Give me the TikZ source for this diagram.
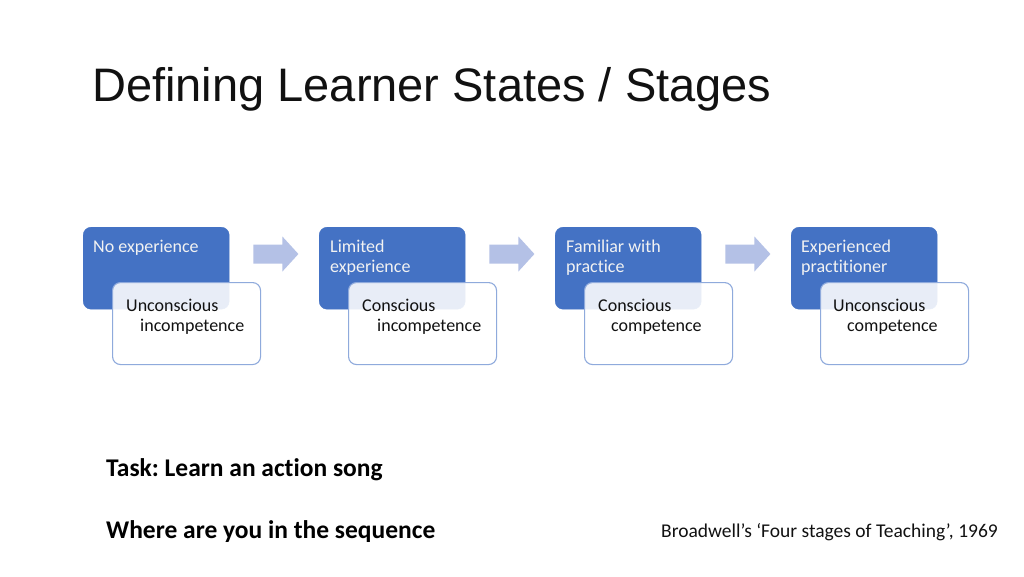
\documentclass[tikz,border=0pt]{standalone}
\usepackage{fontspec}
\setmainfont[Ligatures={NoCommon}]{Carlito}
\newfontfamily\titlefont{Liberation Sans}
\usetikzlibrary{calc}
\frenchspacing
\definecolor{boxblue}{HTML}{4472C4}
\definecolor{edgeblue}{HTML}{8FAADC}
\definecolor{arrowblue}{HTML}{B4C1E6}
\definecolor{inktext}{HTML}{111111}
\definecolor{lighttext}{HTML}{F2F2F2}
\begin{document}
\begin{tikzpicture}[x=1pt,y=-1pt,
  stagebox/.style={fill=boxblue, draw=boxblue, rounded corners=8pt, minimum width=146pt, minimum height=82pt, inner sep=0pt, anchor=north west},
  statebox/.style={fill=white, fill opacity=0.88, draw=edgeblue, line width=1.1pt, rounded corners=8pt, minimum width=148pt, minimum height=82pt, inner sep=0pt, anchor=north west},
  bluetext/.style={anchor=base west, inner sep=0pt, text=lighttext, font=\fontsize{18}{20}\selectfont},
  darktext/.style={anchor=base west, inner sep=0pt, text=inktext, font=\fontsize{18}{20}\selectfont},
  blockarrow/.style={fill=arrowblue},
  bigbold/.style={anchor=base west, inner sep=0pt, text=black, font=\bfseries\fontsize{25.5}{30}\selectfont},
]
\useasboundingbox[fill=white] (0,0) rectangle (1024,576);

\node[anchor=base west, inner sep=0pt, text=inktext, font=\titlefont\fontsize{47}{54}\selectfont] (title) at (92,101) {Defining Learner States / Stages};

% blue stage boxes
\node[stagebox] (s1) at (83,227) {};
\node[stagebox] (s2) at (319,227) {};
\node[stagebox] (s3) at (555,227) {};
\node[stagebox] (s4) at (791,227) {};

% arrows
\foreach \i in {1,2,3}{
  \coordinate (a\i) at ($(s\i.north east)+(24,27)$);
  \fill[blockarrow] (a\i) ++(0,-9.5) -- ++(29,0) -- ++(0,-8) -- ++(16,17.5) -- ++(-16,17.5) -- ++(0,-8) -- ++(-29,0) -- cycle;
}

% stage labels
\node[bluetext] (l1) at (93,252) {No experience};
\node[bluetext] (l2a) at (330,252) {Limited};
\node[bluetext] (l2b) at (330,272) {experience};
\node[bluetext] (l3a) at (566,252) {Familiar with};
\node[bluetext] (l3b) at (566,272) {practice};
\node[bluetext] (l4a) at (801,252) {Experienced};
\node[bluetext] (l4b) at (801,272) {practitioner};

% white state boxes
\node[statebox] (w1) at (112,282) {};
\node[statebox] (w2) at (348,282) {};
\node[statebox] (w3) at (584,282) {};
\node[statebox] (w4) at (820,282) {};

\node[darktext] (c1a) at (126,311) {Unconscious};
\node[darktext] (c1b) at (140,331) {incompetence};
\node[darktext] (c2a) at (362,311) {Conscious};
\node[darktext] (c2b) at (377,331) {incompetence};
\node[darktext] (c3a) at (598,311) {Conscious};
\node[darktext] (c3b) at (611,331) {competence};
\node[darktext] (c4a) at (833,311) {Unconscious};
\node[darktext] (c4b) at (847,331) {competence};

% bottom texts
\node[bigbold] (task) at (106,476) {Task: Learn an action song};
\node[bigbold] (where) at (106,538) {Where are you in the sequence};
\node[anchor=base west, inner sep=0pt, text=inktext, font=\fontsize{19.5}{23}\selectfont] (src) at (661,537) {Broadwell’s ‘Four stages of Teaching’, 1969};
\end{tikzpicture}
\end{document}
